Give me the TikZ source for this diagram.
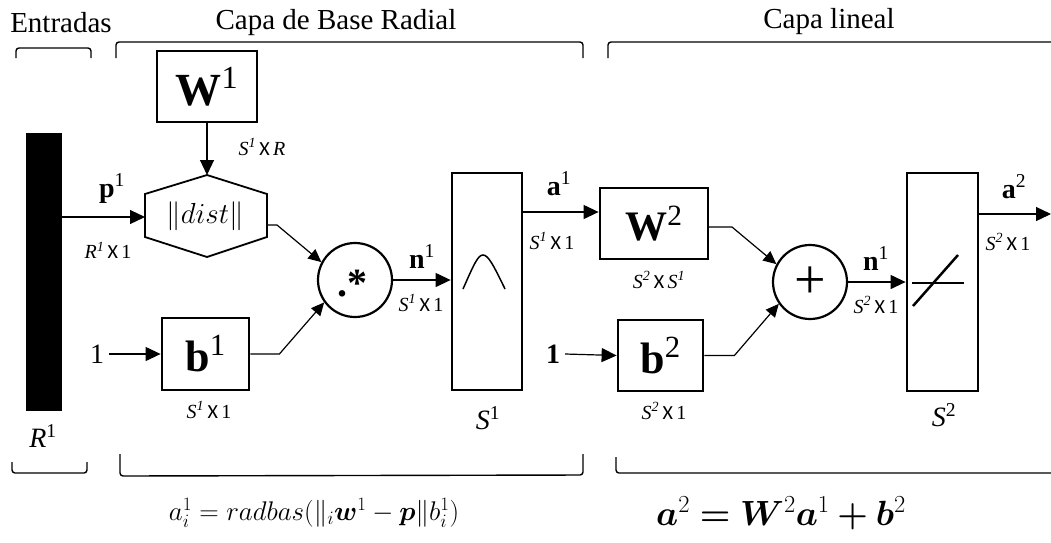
\RequirePackage{fix-cm}
\documentclass[tikz,border=0pt]{standalone}
\usepackage{fontspec}
\setmainfont{Liberation Serif}
\newfontfamily\lblsans{Carlito}
\usepackage{amsmath}
\usepackage{bm}
\usetikzlibrary{arrows.meta,calc}
\newcommand\dimtxt[1]{{\fontsize{20}{22}\selectfont #1}}
\newcommand\xsep{\,{\lblsans X}\,}
\begin{document}
\begin{tikzpicture}[x=1pt,y=-1pt,
  font=\fontsize{28}{32}\selectfont,
  blk/.style={draw, line width=2.8pt, inner sep=0pt},
  conn/.style={line width=1.2pt},
  arr/.style={conn,-{Triangle[length=15pt,width=14pt]}},
  darr/.style={conn,-{Triangle[length=13pt,width=12pt]}},
  brk/.style={line width=1.4pt, rounded corners=3pt},
  lbl/.style={inner sep=0pt},
]
\useasboundingbox (0,0) rectangle (1051,542);

% titles
\node[lbl, anchor=base, font=\fontsize{29}{32}\selectfont] (tin) at (61,32) {Entradas};
\node[lbl, anchor=base, font=\fontsize{29}{32}\selectfont] (trb) at (336,29) {Capa de Base Radial};
\node[lbl, anchor=base, font=\fontsize{29}{32}\selectfont] (tli) at (829,28) {Capa lineal};

% top brackets
\draw[brk] (16,58) -- (16,48) -- (91,48) -- (91,58);
\draw[brk] (116,58) -- (116,42) -- (583,42) -- (583,58);
\draw[brk] (608,58) -- (608,42) -- (1051,42);
% bottom brackets
\draw[brk] (12,462) -- (12,473) -- (87,473) -- (87,462);
\draw[brk] (120,454) -- (120,476) -- (583,475) -- (583,454);
\draw[brk] (616,457) -- (616,473) -- (1051,473);

% input bar
\node[fill=black, minimum width=36pt, minimum height=278pt, inner sep=0pt] (bar) at (44,272) {};
\node[lbl] (R1) at (43,436) {\textit{R}\textsuperscript{1}};

% W1
\node[blk, minimum width=100pt, minimum height=71pt] (W1) at (207,86.5)
  {\fontsize{46}{48}\selectfont\textbf{W}\textsuperscript{1}};
\node[lbl] (dW1) at (262,147) {\dimtxt{\textit{S}\textsuperscript{\textit{1}}\xsep\textit{R}}};

% hexagon ||dist||
\coordinate (hT) at (207,175);
\coordinate (hUL) at (145,194);
\coordinate (hLL) at (145,237);
\coordinate (hB) at (207,257);
\coordinate (hLR) at (267,237);
\coordinate (hUR) at (267,194);
\draw[line width=1.8pt, line join=miter] (hT) -- (hUR) -- (hLR) -- (hB) -- (hLL) -- (hUL) -- cycle;
\node[lbl, font=\fontsize{29}{32}\selectfont] (dist) at (205,216) {$\|dist\|$};
\coordinate (hL) at (145,217);
\coordinate (hR) at (266,225);

\draw[arr] (W1.south) -- (hT);
\draw[arr] (bar.east |- hL) -- (hL);
\node[lbl, anchor=base] (p1) at (112,197) {\textbf{p}\textsuperscript{1}};
\node[lbl] (dp1) at (108,250) {\dimtxt{\textit{R}\textsuperscript{\textit{1}}\xsep 1}};

% b1
\node[blk, minimum width=87pt, minimum height=72pt] (b1) at (205.5,354)
  {\fontsize{44}{46}\selectfont\textbf{b}\textsuperscript{1}};
\node[lbl] (one1) at (97,354) {1};
\draw[arr] (one1.east) ++(5,0) -- (b1.west);
\node[lbl] (db1) at (209,410) {\dimtxt{\textit{S}\textsuperscript{\textit{1}}\xsep 1}};

% multiply circle
\node[circle, draw, line width=2.2pt, minimum size=74pt, inner sep=0pt] (mul) at (355,280) {};
\node[lbl, anchor=base west, font=\fontsize{40}{40}\selectfont\bfseries] (multxt) at (337,296) {.*};

\draw[darr] (hR) -- ++(11,0) -- (mul.152);
\draw[darr] (b1.east) -- ++(29,0) -- (mul.216);

% radbas box
\node[blk, minimum width=70pt, minimum height=217pt] (rb) at (487,281.5) {};
\draw[line width=1.5pt] (463,289) .. controls (474,264) and (478,255) .. (483,255)
  .. controls (488,255) and (493,264) .. (505,289);
\node[lbl] (S1) at (488,418) {\textit{S}\textsuperscript{1}};

\draw[arr] (mul.east) -- (rb.west |- mul.east);
\node[lbl, anchor=base] (n1) at (422,268) {\textbf{n}\textsuperscript{1}};
\node[lbl] (dn1) at (421,303) {\dimtxt{\textit{S}\textsuperscript{\textit{1}}\xsep 1}};

% W2
\node[blk, minimum width=108pt, minimum height=71pt] (W2) at (654,223.5)
  {\fontsize{42}{44}\selectfont\textbf{W}\textsuperscript{2}};
\node[lbl] (dW2) at (659,280) {\dimtxt{\textit{S}\textsuperscript{\textit{2}}\xsep\textit{S}\textsuperscript{\textit{1}}}};
\coordinate (rbA) at (522,212);
\draw[arr] (rbA) -- (W2.west |- rbA);
\node[lbl, anchor=base] (a1) at (559,195) {\textbf{a}\textsuperscript{1}};
\node[lbl] (da1) at (552,241) {\dimtxt{\textit{S}\textsuperscript{\textit{1}}\xsep 1}};

% b2
\node[blk, minimum width=85pt, minimum height=71pt] (b2) at (660.5,355.5)
  {\fontsize{44}{46}\selectfont\textbf{b}\textsuperscript{2}};
\node[lbl] (one2) at (553,354) {\textbf{1}};
\draw[arr] (one2.east) ++(5,0) -- (b2.west);
\node[lbl] (db2) at (664,411) {\dimtxt{\textit{S}\textsuperscript{\textit{2}}\xsep 1}};

% plus circle
\node[circle, draw, line width=2.2pt, minimum size=74pt, inner sep=0pt] (plus) at (810,282) {};
\node[lbl, font=\fontsize{56}{56}\selectfont] (plustxt) at (810,283) {+};
\coordinate (W2R) at (708,227);
\draw[darr] (W2R) -- ++(24,0) -- (plus.152);
\draw[darr] (b2.east) -- ++(30,0) -- (plus.215);

% purelin box
\node[blk, minimum width=71pt, minimum height=218pt] (pl) at (942.5,282) {};
\draw[line width=1.2pt] (912,283) -- (964,283);
\draw[line width=2.5pt] (913,306) -- (958,255);
\node[lbl] (S2) at (944,415) {\textit{S}\textsuperscript{2}};

\draw[arr] (plus.east) -- (pl.west |- plus.east);
\node[lbl, anchor=base] (n2) at (876,270) {\textbf{n}\textsuperscript{1}};
\node[lbl] (dn2) at (876,305) {\dimtxt{\textit{S}\textsuperscript{\textit{2}}\xsep 1}};

\coordinate (plA) at (978,214);
\coordinate (outA) at (1051,214);
\draw[arr] (plA) -- (outA);
\node[lbl, anchor=base] (a2) at (1014,198) {\textbf{a}\textsuperscript{2}};
\node[lbl] (da2) at (1008,242) {\dimtxt{\textit{S}\textsuperscript{\textit{2}}\xsep 1}};

% formulas
\node[lbl, font=\fontsize{27}{32}\selectfont] (f1) at (314,513) {$a_i^1 = radbas(\|_i\bm{w}^1 - \bm{p}\| b_i^1)$};
\node[lbl, font=\fontsize{35}{40}\selectfont] (f2) at (781,513) {$\bm{a}^2 \mathrel{\bm{=}} \bm{W}^2\bm{a}^1 \mathbin{\bm{+}} \bm{b}^2$};
\end{tikzpicture}
\end{document}
